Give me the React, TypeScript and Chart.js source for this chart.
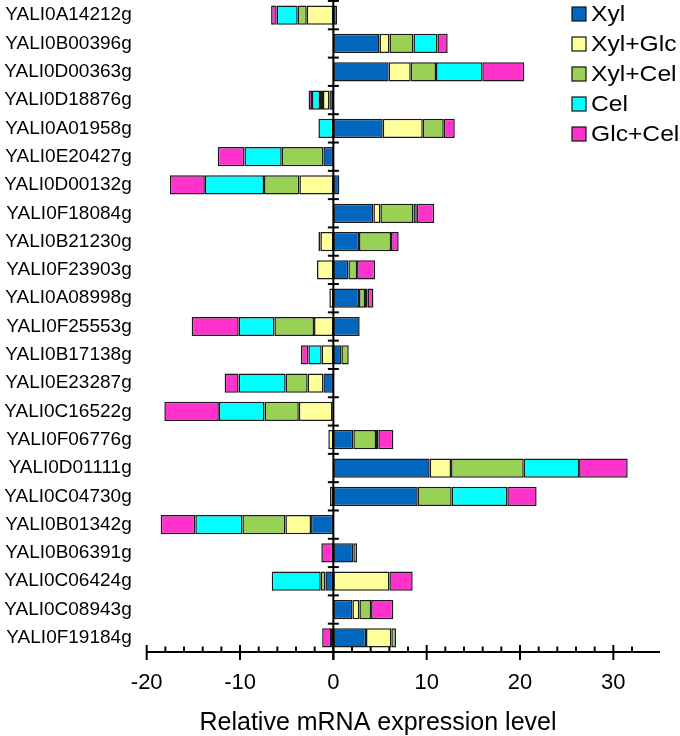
import React, { useEffect, useRef } from "react";
import { Chart, registerables } from "chart.js";

Chart.register(...registerables);

const categories = [
  "YALI0A14212g", "YALI0B00396g", "YALI0D00363g", "YALI0D18876g", "YALI0A01958g",
  "YALI0E20427g", "YALI0D00132g", "YALI0F18084g", "YALI0B21230g", "YALI0F23903g",
  "YALI0A08998g", "YALI0F25553g", "YALI0B17138g", "YALI0E23287g", "YALI0C16522g",
  "YALI0F06776g", "YALI0D01111g", "YALI0C04730g", "YALI0B01342g", "YALI0B06391g",
  "YALI0C06424g", "YALI0C08943g", "YALI0F19184g",
];

const seriesNames = ["Xyl", "Xyl+Glc", "Xyl+Cel", "Cel", "Glc+Cel"];

const xyl = [0.4, 4.94, 5.93, -0.43, 5.29, -1.07, 0.64, 4.29, 2.75, 1.61, 2.75, 2.82, 0.86, -1.07, -0.1, 2.14, 10.32, 9.04, -2.39, 2.14, -0.85, 2.04, 3.5];
const xylGlc = [-2.85, 1.07, 2.36, -0.68, 4.29, 0, -3.64, 0.75, -1.39, -1.75, -0.43, -2.07, -1.25, -1.68, -3.6, -0.54, 2.29, -0.36, -2.75, 0, 6.0, 0.75, 2.71];
const xylCel = [-0.97, 2.57, 2.71, -0.32, 2.25, -4.46, -3.79, 3.54, 3.43, 0.93, 0.64, -4.25, 0.79, -2.36, -3.68, 2.43, 7.79, 3.64, -4.61, 0.4, -0.5, 1.25, 0.5];
const cel = [-2.25, 2.57, 4.96, -0.86, -1.6, -4.0, -6.34, 0.36, -0.21, 0, 0.29, -3.82, -1.43, -5.04, -4.89, 0.25, 5.93, 5.96, -5.04, 0, -5.25, 0, -0.25];
const glcCel = [-0.6, 1.1, 4.5, -0.36, 1.18, -2.86, -3.75, 1.86, 0.82, 1.93, 0.61, -5.04, -0.79, -1.5, -5.84, 1.61, 5.21, 3.14, -3.71, -1.29, 2.5, 2.39, -0.95];

const seriesValues = [xyl, xylGlc, xylCel, cel, glcCel];
const seriesColors = ["#0066BE", "#FFFF99", "#99D155", "#00FFFF", "#FF33CC"];

const xMin = -20;
const xMax = 35;
const axisTitle = "Relative mRNA expression level";

const FONT = "'Liberation Sans', Arial, sans-serif";

const decorPlugin = {
  id: "decor",
  afterDatasetsDraw(chart: any) {
    const ctx = chart.ctx;
    const xs = chart.scales.x;
    const ys = chart.scales.y;
    const area = chart.chartArea;
    const x0 = xs.getPixelForValue(0);
    const yb = area.bottom;
    ctx.save();
    ctx.strokeStyle = "#000";
    ctx.lineWidth = 2;
    // zero line
    ctx.beginPath();
    ctx.moveTo(x0, area.top);
    ctx.lineTo(x0, yb + 8);
    ctx.stroke();
    // category boundary ticks
    for (let i = 0; i <= categories.length; i++) {
      const y = ys.getPixelForValue(i - 0.5);
      ctx.beginPath();
      ctx.moveTo(x0 - 5.5, y);
      ctx.lineTo(x0 + 5.5, y);
      ctx.stroke();
    }
    // x axis line
    ctx.beginPath();
    ctx.moveTo(xs.getPixelForValue(xMin), yb);
    ctx.lineTo(xs.getPixelForValue(xMax), yb);
    ctx.stroke();
    // x ticks
    xs.ticks.forEach((t: any) => {
      const v = t.value;
      if (Math.abs(v % 2) > 1e-9) return;
      const px = xs.getPixelForValue(v);
      ctx.beginPath();
      if (Math.abs(v % 10) < 1e-9) {
        ctx.moveTo(px, yb - 7);
        ctx.lineTo(px, yb + 8);
      } else {
        ctx.moveTo(px, yb - 5.5);
        ctx.lineTo(px, yb);
      }
      ctx.stroke();
    });
    // axis title
    ctx.fillStyle = "#000";
    ctx.font = `25px ${FONT}`;
    ctx.textAlign = "center";
    ctx.textBaseline = "alphabetic";
    ctx.fillText(axisTitle, 378, 730);
    // legend
    chart.data.datasets.forEach((ds: any, i: number) => {
      const cy = 14 + i * 30;
      ctx.fillStyle = ds.backgroundColor;
      ctx.fillRect(572, cy - 7, 14, 14);
      ctx.lineWidth = 1.2;
      ctx.strokeStyle = "#111";
      ctx.strokeRect(572, cy - 7, 14, 14);
      ctx.save();
      ctx.translate(591, cy + 1);
      ctx.scale(1.12, 1);
      ctx.fillStyle = "#000";
      ctx.font = `22px ${FONT}`;
      ctx.textAlign = "left";
      ctx.textBaseline = "middle";
      ctx.fillText(ds.label, 0, 0);
      ctx.restore();
    });
    ctx.restore();
  },
};

export default function App() {
  const ref = useRef<HTMLCanvasElement | null>(null);
  useEffect(() => {
    document.body.style.margin = "0";
    if (!ref.current) return;
    const chart = new Chart(ref.current, {
      type: "bar",
      data: {
        labels: categories,
        datasets: seriesNames.map((name, i) => ({
          label: name,
          data: seriesValues[i],
          backgroundColor: seriesColors[i],
          borderColor: "#1a1a1a",
          borderWidth: 1.5,
          borderSkipped: false,
          barPercentage: 0.68,
          categoryPercentage: 1,
        })),
      },
      options: {
        indexAxis: "y",
        animation: false,
        responsive: false,
        layout: { padding: { top: 1, right: 20, left: 0, bottom: 0 } },
        plugins: {
          legend: { display: false },
          tooltip: { enabled: false },
        },
        scales: {
          x: {
            type: "linear",
            min: xMin,
            max: xMax,
            stacked: true,
            grid: { display: false, drawTicks: false },
            border: { display: false },
            afterFit: (s: any) => {
              s.height = 84;
              s.paddingLeft = 0;
              s.paddingRight = 0;
            },
            ticks: {
              stepSize: 2,
              autoSkip: false,
              maxRotation: 0,
              padding: 18,
              color: "#000",
              font: { family: FONT, size: 22 },
              callback: (v: any) => (Math.abs(Number(v) % 10) < 1e-9 ? String(v) : ""),
            },
          },
          y: {
            stacked: true,
            grid: { display: false, drawTicks: false },
            border: { display: false },
            afterFit: (s: any) => {
              s.width = 146.7;
              s.paddingTop = 0;
              s.paddingBottom = 0;
            },
            ticks: {
              padding: 15,
              color: "#000",
              font: { family: FONT, size: 19 },
            },
          },
        },
      },
      plugins: [decorPlugin],
    });
    return () => chart.destroy();
  }, []);
  return (
    <div style={{ width: 680, height: 736 }}>
      <canvas ref={ref} width={680} height={736} />
    </div>
  );
}
